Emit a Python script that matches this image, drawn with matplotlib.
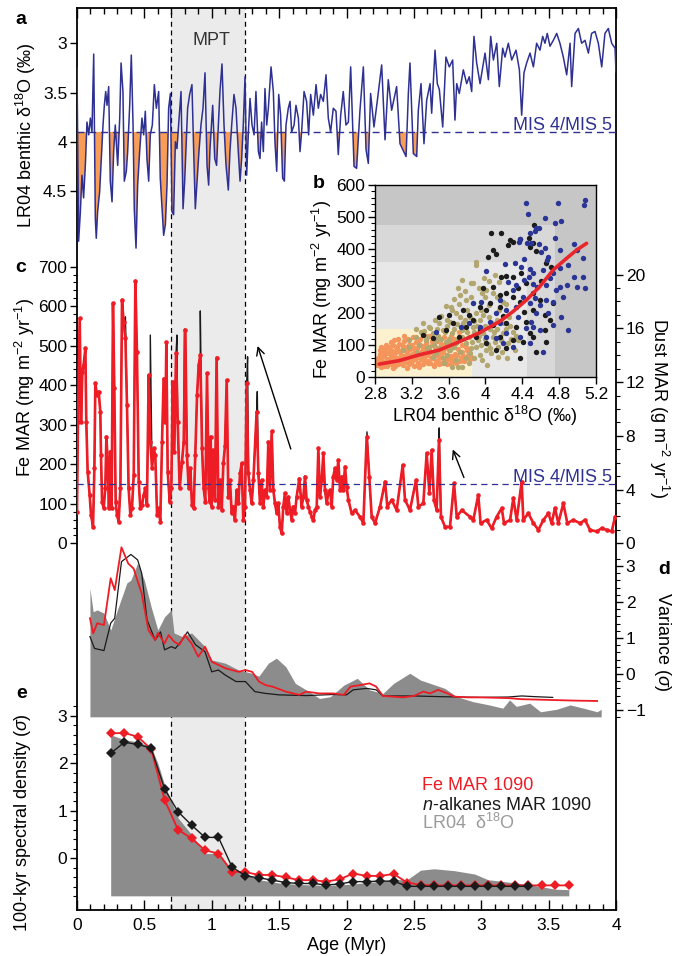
import numpy as np
import matplotlib.pyplot as plt
import matplotlib.ticker as ticker
from matplotlib.patches import Rectangle

plt.rcParams['font.family'] = ['Liberation Sans', 'DejaVu Sans']
plt.rcParams['mathtext.fontset'] = 'custom'
plt.rcParams['mathtext.rm'] = 'Liberation Sans'
plt.rcParams['mathtext.it'] = 'Liberation Sans:italic'
plt.rcParams['mathtext.bf'] = 'Liberation Sans:bold'
plt.rcParams['xtick.labelsize'] = 12.5
plt.rcParams['ytick.labelsize'] = 12.5

# ---- panel a: LR04 benthic d18O (turning points)
lr04_age = [0.000, 0.012, 0.025, 0.037, 0.049, 0.062, 0.074, 0.087, 0.099, 0.111, 0.124, 0.136,
            0.143, 0.153, 0.168, 0.178, 0.193, 0.203, 0.213, 0.223, 0.235, 0.247, 0.260, 0.272,
            0.284, 0.302, 0.317, 0.327, 0.341, 0.351, 0.366, 0.376, 0.391, 0.403, 0.416, 0.425,
            0.438, 0.450, 0.465, 0.482, 0.495, 0.507, 0.519, 0.532, 0.544, 0.559, 0.574, 0.589,
            0.606, 0.618, 0.631, 0.643, 0.656, 0.668, 0.680, 0.693, 0.705, 0.717, 0.730, 0.742,
            0.754, 0.772, 0.787, 0.799, 0.811, 0.821, 0.836, 0.853, 0.866, 0.878, 0.891, 0.905,
            0.920, 0.935, 0.950, 0.965, 0.977, 0.987, 1.007, 1.022, 1.036, 1.049, 1.061, 1.076,
            1.091, 1.106, 1.123, 1.135, 1.148, 1.165, 1.180, 1.197, 1.210, 1.222, 1.234, 1.247,
            1.259, 1.272, 1.284, 1.299, 1.314, 1.328, 1.346, 1.358, 1.370, 1.383, 1.395, 1.408,
            1.420, 1.440, 1.457, 1.469, 1.482, 1.497, 1.511, 1.526, 1.539, 1.551, 1.568, 1.581,
            1.593, 1.611, 1.625, 1.643, 1.655, 1.667, 1.685, 1.704, 1.719, 1.734, 1.754, 1.774,
            1.791, 1.808, 1.828, 1.848, 1.865, 1.882, 1.902, 1.922, 1.939, 1.957, 1.976, 1.996,
            2.014, 2.031, 2.056, 2.075, 2.100, 2.125, 2.145, 2.162, 2.179, 2.204, 2.229,
            2.261, 2.286, 2.310, 2.335, 2.372, 2.397, 2.442, 2.459, 2.471, 2.496, 2.521, 2.533,
            2.553, 2.575, 2.595, 2.620, 2.632, 2.657, 2.674, 2.689, 2.714, 2.738, 2.763, 2.788,
            2.805, 2.818, 2.837, 2.867, 2.892, 2.911, 2.929, 2.946, 2.966, 2.991, 3.028, 3.053,
            3.070, 3.090, 3.115, 3.134, 3.159, 3.176, 3.201, 3.226, 3.258, 3.283, 3.300, 3.317,
            3.337, 3.362, 3.387, 3.411, 3.436, 3.456, 3.473, 3.490, 3.510, 3.535, 3.560, 3.584,
            3.609, 3.634, 3.659, 3.671, 3.696, 3.721, 3.745, 3.770, 3.795, 3.819, 3.844, 3.869,
            3.894, 3.918, 3.943, 3.968, 3.993, 4.000]
lr04_d18o = [3.25, 5.01, 4.71, 4.34, 4.57, 4.24, 3.80, 3.93, 3.76, 3.90, 3.11, 4.78,
             4.98, 4.71, 4.51, 4.24, 3.83, 3.63, 3.49, 3.63, 3.44, 4.40, 4.61, 4.10,
             3.83, 4.24, 3.76, 3.20, 3.49, 4.40, 4.30, 4.10, 3.63, 3.12, 3.83, 4.68,
             5.08, 4.44, 4.10, 3.76, 3.93, 3.69, 4.17, 4.40, 3.93, 3.83, 3.42, 3.66,
             3.49, 4.37, 4.68, 4.95, 4.84, 4.44, 3.66, 3.51, 4.71, 4.74, 4.00, 4.07,
             3.83, 3.49, 4.68, 4.40, 4.00, 3.66, 3.52, 3.42, 4.10, 4.68, 4.40, 4.10,
             3.83, 3.66, 3.30, 4.24, 4.44, 4.07, 3.63, 4.17, 4.24, 3.83, 3.49, 3.21,
             3.83, 4.24, 4.49, 4.10, 3.83, 3.52, 3.66, 4.10, 4.40, 4.17, 3.83, 3.34,
             4.34, 3.90, 3.56, 3.83, 3.93, 3.49, 4.10, 4.17, 3.80, 4.10, 3.46, 3.83,
             3.66, 3.24, 3.49, 4.00, 4.30, 3.52, 3.73, 4.37, 4.40, 3.83, 3.66, 3.59,
             3.90, 3.83, 3.63, 3.76, 4.10, 3.90, 3.49, 3.59, 3.93, 3.52, 3.73, 3.42,
             3.66, 3.52, 3.59, 3.32, 3.76, 3.90, 3.66, 3.69, 4.13, 3.73, 3.49, 3.83,
             3.80, 3.24, 4.25, 4.27, 3.68, 3.24, 4.08, 4.22, 3.51, 3.85, 3.58,
             3.22, 3.98, 3.37, 3.68, 3.44, 4.02, 4.15, 3.51, 3.20, 4.12, 4.15, 3.68,
             3.41, 4.02, 3.58, 3.41, 3.71, 3.07, 3.41, 3.47, 3.85, 3.14, 3.24, 3.17,
             3.78, 3.41, 3.51, 3.27, 3.41, 3.34, 3.49, 2.93, 3.20, 3.41, 3.10, 3.37,
             2.93, 3.17, 3.00, 3.44, 3.05, 3.14, 3.00, 3.17, 3.07, 3.27, 3.73, 3.30,
             3.20, 3.10, 3.24, 3.00, 3.07, 2.93, 3.00, 2.90, 3.03, 2.97, 2.90, 3.00,
             3.14, 3.32, 3.00, 3.44, 2.90, 2.85, 3.00, 2.97, 3.10, 2.90, 2.88, 3.00,
             3.24, 2.90, 2.85, 3.00, 3.05, 3.29]
mis_d18o = 3.9

# ---- panel c: Fe MAR ODP 1090 (mg m-2 yr-1)
fe_age = [0.000, 0.007, 0.020, 0.030, 0.040, 0.049, 0.062, 0.069, 0.079, 0.094, 0.104, 0.119,
          0.129, 0.136, 0.148, 0.161, 0.173, 0.178, 0.186, 0.198, 0.210, 0.218, 0.228, 0.237,
          0.247, 0.257, 0.267, 0.277, 0.287, 0.297, 0.309, 0.322, 0.334, 0.346, 0.359, 0.371,
          0.383, 0.396, 0.408, 0.421, 0.433, 0.445, 0.458, 0.470, 0.482, 0.495, 0.507, 0.519,
          0.532, 0.544, 0.557, 0.569, 0.581, 0.594, 0.606, 0.618, 0.631, 0.643, 0.656, 0.663,
          0.673, 0.688, 0.700, 0.710, 0.722, 0.735, 0.747, 0.762, 0.779, 0.792, 0.804, 0.816,
          0.829, 0.841, 0.853, 0.866, 0.878, 0.891, 0.903, 0.915, 0.928, 0.940, 0.952, 0.965,
          0.977, 0.984, 0.992, 0.999, 1.012, 1.024, 1.036, 1.049, 1.061, 1.074, 1.086, 1.098,
          1.111, 1.123, 1.135, 1.148, 1.160, 1.172, 1.185, 1.197, 1.210, 1.222, 1.234, 1.247,
          1.259, 1.272, 1.284, 1.296, 1.309, 1.333, 1.346, 1.358, 1.370, 1.383, 1.395, 1.408,
          1.420, 1.432, 1.445, 1.457, 1.469, 1.482, 1.494, 1.506, 1.519, 1.531, 1.543, 1.556,
          1.568, 1.581, 1.593, 1.605, 1.618, 1.630, 1.650, 1.667, 1.680, 1.692, 1.704, 1.717,
          1.729, 1.742, 1.754, 1.766, 1.779, 1.791, 1.803, 1.816, 1.828, 1.840, 1.853, 1.865,
          1.878, 1.890, 1.902, 1.915, 1.927, 1.939, 1.952, 1.964, 1.976, 1.989, 2.001, 2.014,
          2.038, 2.063, 2.100, 2.125, 2.150, 2.169,
          2.187, 2.212, 2.249, 2.286, 2.303, 2.335, 2.372, 2.417, 2.434, 2.471, 2.516, 2.533,
          2.570, 2.595, 2.615, 2.632, 2.649, 2.669, 2.686, 2.701, 2.731, 2.768, 2.798, 2.818,
          2.855, 2.917, 2.941, 2.978, 2.995, 3.040, 3.077, 3.114, 3.152, 3.169, 3.214, 3.238,
          3.263, 3.300, 3.312, 3.349, 3.387, 3.424, 3.461, 3.498, 3.522, 3.547, 3.572, 3.609,
          3.639, 3.683, 3.733, 3.770, 3.807, 3.856, 3.893, 3.930, 3.968, 3.993]
fe_mar = [80, 308, 569, 308, 434, 451, 493, 308, 181, 122, 72, 42,
          190, 405, 375, 384, 333, 223, 105, 89, 139, 270, 207, 89,
          232, 89, 607, 392, 105, 72, 55, 139, 616, 561, 519, 350,
          139, 72, 89, 173, 664, 485, 156, 89, 97, 122, 139, 97,
          426, 257, 190, 240, 223, 72, 89, 55, 257, 417, 308, 509,
          181, 105, 139, 409, 232, 481, 308, 139, 207, 257, 540, 223,
          139, 190, 97, 89, 223, 375, 451, 477, 240, 139, 105, 430,
          139, 105, 270, 93, 236, 110, 470, 93, 160, 84, 202, 245,
          413, 118, 160, 76, 93, 59, 135, 101, 177, 202, 59, 93,
          405, 177, 135, 101, 160, 333, 177, 101, 160, 93, 135, 118,
          257, 135, 283, 135, 101, 76, 101, 42, 25, 93, 127, 76,
          118, 84, 59, 93, 76, 118, 164, 93, 118, 169, 110, 93,
          80, 67, 59, 84, 93, 240, 118, 160, 228, 135, 101, 127,
          135, 93, 169, 190, 160, 211, 135, 169, 135, 194, 143, 110,
          76, 84, 67, 51, 270, 169,
          67, 51, 93, 156, 93, 110, 84, 198, 110, 84, 160, 93,
          101, 228, 127, 236, 110, 84, 261, 67, 42, 42, 152, 67,
          84, 67, 59, 122, 51, 59, 38, 67, 89, 51, 59, 114,
          59, 156, 59, 76, 51, 34, 59, 76, 51, 89, 51, 101,
          51, 59, 51, 59, 34, 30, 38, 34, 30, 67]
# n-alkanes MAR: follows Fe MAR but with taller spikes at these ages
alk_spike_age = [0.359, 0.544, 0.742, 0.797, 0.915, 1.266, 1.338, 2.152, 2.688]
alk_spike_val = [573, 527, 527, 542, 588, 472, 384, 282, 292]
mis_fe = 150
dust_per_fe = 1 / 34.0

# ---- panel d: variance (sigma)
var_lr04_age = [0.096, 0.12, 0.15, 0.20, 0.25, 0.30, 0.37, 0.40, 0.45, 0.50, 0.55, 0.60, 0.65,
                0.70, 0.72, 0.78, 0.85, 0.95, 1.00, 1.10, 1.20, 1.30, 1.35, 1.42, 1.48, 1.55,
                1.62, 1.70, 1.80, 1.88, 1.98, 2.08, 2.17, 2.27, 2.35, 2.47, 2.55, 2.62, 2.73,
                2.82, 2.94, 3.06, 3.16, 3.21, 3.26, 3.36, 3.44, 3.56, 3.66, 3.76, 3.86, 3.89]
var_lr04 = [2.38, 1.73, 1.78, 1.69, 1.22, 1.78, 2.53, 2.61, 3.08, 2.60, 1.87, 1.22, 1.59,
            1.78, 1.14, 1.04, 1.14, 0.76, 0.39, 0.30, 0.11, 0.02, -0.06, 0.30, 0.44, 0.20,
            -0.26, -0.44, -0.68, -0.63, -0.31, -0.12, -0.44, -0.54, -0.26, 0.02, -0.17, -0.26, -0.40,
            -0.63, -0.77, -0.86, -0.95, -0.72, -0.90, -0.81, -1.05, -0.98, -0.86, -0.95, -1.05, -0.98]
var_base = -1.19
var_fe_age = [0.096, 0.12, 0.15, 0.20, 0.25, 0.28, 0.33, 0.38, 0.42, 0.48, 0.53, 0.58, 0.60,
              0.65, 0.68, 0.72, 0.76, 0.80, 0.85, 0.90, 0.95, 1.00, 1.05, 1.10, 1.20, 1.25,
              1.30, 1.35, 1.40, 1.45, 1.55, 1.65, 1.70, 1.80, 1.90, 1.98, 2.03, 2.10, 2.17,
              2.22, 2.27, 2.35, 2.42, 2.50, 2.57, 2.62, 2.68, 2.75, 2.80, 2.90, 3.00, 3.20,
              3.30, 3.50, 3.70, 3.86]
var_fe = [1.55, 1.13, 1.41, 1.36, 2.66, 2.33, 3.52, 3.07, 2.93, 2.24, 1.22, 0.94, 1.14,
          0.85, 1.08, 0.90, 0.81, 1.08, 0.85, 0.48, 0.76, 0.34, 0.25, 0.16, 0.06, 0.11,
          0.06, -0.21, -0.31, -0.35, -0.49, -0.58, -0.49, -0.54, -0.54, -0.58, -0.35, -0.31, -0.26,
          -0.35, -0.61, -0.63, -0.65, -0.61, -0.49, -0.54, -0.44, -0.54, -0.63, -0.65, -0.65, -0.67,
          -0.70, -0.72, -0.74, -0.75]
var_alk_age = [0.096, 0.13, 0.20, 0.25, 0.28, 0.33, 0.40, 0.45, 0.48, 0.52, 0.58, 0.62, 0.65,
               0.70, 0.73, 0.78, 0.82, 0.88, 0.95, 1.00, 1.05, 1.10, 1.18, 1.25, 1.32, 1.40,
               1.50, 1.70, 1.90, 2.00, 2.05, 2.15, 2.22, 2.27, 2.50, 2.70, 3.00, 3.20, 3.30,
               3.40, 3.53]
var_alk = [1.04, 0.71, 0.65, 1.41, 1.55, 3.12, 3.32, 3.17, 2.80, 1.50, 0.94, 1.17, 0.67,
           0.76, 0.71, 0.94, 1.17, 0.81, 0.62, 0.06, 0.11, -0.03, -0.21, -0.21, -0.49, -0.54,
           -0.58, -0.60, -0.57, -0.58, -0.44, -0.40, -0.44, -0.61, -0.61, -0.63, -0.65, -0.64, -0.61,
           -0.63, -0.65]

# ---- panel e: 100-kyr spectral density (sigma)
spec_lr04_age = [0.25, 0.35, 0.45, 0.55, 0.60, 0.65, 0.70, 0.75, 0.85, 0.95, 1.05, 1.15, 1.25,
                 1.35, 1.50, 1.65, 1.85, 2.00, 2.20, 2.35, 2.45, 2.55, 2.65, 2.80, 2.95, 3.05,
                 3.20, 3.35, 3.45, 3.55, 3.65]
spec_lr04 = [2.60, 2.50, 2.45, 2.35, 2.00, 1.55, 1.20, 0.85, 0.50, 0.10, 0.10, -0.25, -0.30,
             -0.45, -0.52, -0.55, -0.57, -0.55, -0.50, -0.45, -0.45, -0.25, -0.22, -0.26, -0.33, -0.45,
             -0.50, -0.55, -0.60, -0.65, -0.66]
spec_base = -0.79
spec_fe_age = [0.25, 0.35, 0.45, 0.55, 0.65, 0.75, 0.85, 0.95, 1.05, 1.15, 1.25, 1.35, 1.45,
               1.55, 1.65, 1.75, 1.85, 1.95, 2.05, 2.15, 2.25, 2.35, 2.45, 2.55, 2.65, 2.75,
               2.85, 2.95, 3.05, 3.15, 3.25, 3.35, 3.45, 3.55, 3.65]
spec_fe = [2.63, 2.64, 2.56, 2.30, 1.23, 0.60, 0.42, 0.17, 0.10, -0.28, -0.29, -0.35, -0.35,
           -0.40, -0.46, -0.46, -0.49, -0.44, -0.32, -0.37, -0.37, -0.33, -0.51, -0.56, -0.57, -0.57,
           -0.57, -0.57, -0.57, -0.57, -0.57, -0.57, -0.57, -0.57, -0.57]
spec_alk_age = [0.25, 0.35, 0.45, 0.55, 0.65, 0.75, 0.85, 0.95, 1.05, 1.15, 1.25, 1.35, 1.45,
                1.55, 1.65, 1.75, 1.85, 1.95, 2.05, 2.15, 2.25, 2.35, 2.45, 2.55, 2.65, 2.75,
                2.85, 2.95, 3.05, 3.15, 3.25, 3.35]
spec_alk = [2.21, 2.44, 2.40, 2.32, 1.46, 0.98, 0.70, 0.44, 0.44, -0.18, -0.37, -0.41, -0.46,
            -0.51, -0.53, -0.53, -0.56, -0.54, -0.49, -0.49, -0.48, -0.48, -0.59, -0.59, -0.59, -0.59,
            -0.59, -0.59, -0.59, -0.59, -0.59, -0.59]

# ---- panel b: Fe MAR vs d18O scatter
orange_pts = [(2.82, 38), (2.83, 60), (2.84, 45), (2.85, 72), (2.86, 32), (2.87, 55), (2.88, 80),
              (2.89, 42), (2.90, 65), (2.91, 88), (2.92, 50), (2.93, 35), (2.94, 75), (2.95, 95),
              (2.96, 58), (2.97, 40), (2.98, 82), (2.99, 68), (3.00, 100), (3.01, 48), (3.02, 34),
              (3.03, 78), (3.04, 90), (3.05, 60), (3.06, 105), (3.07, 44), (3.08, 70), (3.09, 86),
              (3.10, 38), (3.11, 112), (3.12, 62), (3.13, 96), (3.14, 50), (3.15, 76), (3.16, 118),
              (3.17, 40), (3.18, 88), (3.19, 66), (3.20, 102), (3.21, 54), (3.22, 36), (3.23, 82),
              (3.24, 110), (3.25, 60), (3.26, 92), (3.27, 46), (3.28, 74), (3.29, 120), (3.30, 56),
              (3.31, 98), (3.32, 40), (3.33, 84), (3.34, 66), (3.35, 108), (3.36, 50), (3.37, 90),
              (3.38, 72), (3.39, 128), (3.40, 44), (3.41, 80), (3.42, 100), (3.43, 60), (3.44, 38),
              (3.45, 94), (3.46, 70), (3.47, 114), (3.48, 52), (3.49, 86), (3.50, 64), (3.52, 104),
              (3.53, 46), (3.54, 78), (3.56, 92), (3.57, 58), (3.58, 40), (3.60, 84), (3.61, 110),
              (3.62, 66), (3.64, 50), (3.65, 96), (3.67, 74), (3.68, 44), (3.70, 88), (3.71, 140),
              (3.73, 60), (3.75, 80), (3.77, 52), (3.79, 96), (3.81, 70), (3.83, 58), (2.86, 95),
              (2.97, 110), (3.05, 120), (3.12, 130), (3.00, 30), (3.15, 30), (3.28, 32), (3.44, 34),
              (3.55, 125), (3.66, 120), (2.83, 50), (2.85, 85), (2.87, 65), (2.88, 48), (2.90, 36),
              (2.91, 72), (2.93, 58), (2.94, 44), (2.96, 88), (2.97, 66), (2.99, 52), (3.00, 78),
              (3.02, 62), (3.03, 96), (3.05, 40), (3.06, 82), (3.08, 54), (3.09, 100), (3.11, 68),
              (3.12, 44), (3.14, 84), (3.16, 58), (3.17, 102), (3.19, 48), (3.20, 72), (3.22, 92),
              (3.23, 56), (3.25, 80), (3.26, 38), (3.28, 104), (3.30, 66), (3.31, 82), (3.33, 52),
              (3.34, 96), (3.36, 70), (3.38, 46), (3.39, 86), (3.41, 60), (3.42, 112), (3.44, 74),
              (3.46, 52), (3.47, 90), (3.49, 40), (3.51, 78), (3.53, 62), (3.55, 100), (3.56, 48),
              (3.58, 70), (3.60, 56), (3.62, 90), (3.63, 40), (3.66, 62), (3.69, 70), (3.72, 50),
              (3.74, 100), (3.76, 66), (3.80, 84), (3.84, 64), (2.92, 100), (3.01, 115), (3.21, 125),
              (3.35, 130), (3.50, 120), (3.63, 130)]
tan_pts = [(3.90, 361), (3.90, 350), (3.84, 293), (3.96, 262), (3.57, 223), (3.63, 220), (3.72, 257),
           (3.79, 241), (3.86, 231), (3.95, 210), (4.04, 226), (4.15, 210), (4.26, 189), (4.04, 189),
           (3.94, 179), (3.83, 189), (3.72, 189), (3.61, 174), (3.50, 168), (3.39, 158), (3.32, 168),
           (3.43, 137), (3.54, 148), (3.64, 137), (3.75, 148), (3.86, 158), (3.97, 137), (4.08, 127),
           (4.19, 137), (4.30, 142), (4.35, 116), (4.24, 106), (4.14, 96), (4.01, 85), (3.90, 96),
           (3.79, 106), (3.68, 106), (3.57, 111), (3.46, 116), (3.35, 116), (3.24, 127), (3.17, 116),
           (3.28, 101), (3.39, 96), (3.50, 90), (3.61, 85), (3.72, 80), (3.83, 75), (3.94, 70),
           (4.02, 38), (3.70, 33), (3.75, 33), (3.64, 33), (3.26, 80), (3.17, 96), (3.10, 85),
           (3.43, 64), (3.54, 59), (3.79, 59), (4.14, 64), (4.32, 85), (4.23, 59), (3.86, 293),
           (4.08, 262), (4.19, 236), (3.64, 210), (4.15, 298), (4.01, 272), (3.75, 303), (3.30, 140),
           (3.36, 125), (3.48, 130), (3.58, 160), (3.66, 150), (3.70, 120), (3.82, 125), (3.88, 140),
           (3.92, 115), (3.99, 160), (4.05, 150), (4.10, 110), (4.20, 170), (4.28, 120), (3.52, 190),
           (3.68, 200), (3.80, 210), (3.90, 200), (4.00, 250), (4.12, 180), (3.46, 75), (3.58, 70),
           (3.66, 95), (3.85, 110), (3.95, 100), (4.05, 90), (3.36, 90), (3.76, 170), (3.60, 120),
           (3.45, 180), (4.10, 320), (3.98, 310), (3.70, 280), (3.25, 150), (3.33, 145), (3.40, 155),
           (3.44, 100), (3.52, 120), (3.56, 140), (3.62, 105), (3.69, 165), (3.74, 125), (3.78, 180),
           (3.80, 140), (3.84, 90), (3.87, 175), (3.91, 160), (3.93, 130), (3.97, 195), (4.00, 120),
           (4.03, 105), (4.07, 170), (4.09, 140), (4.13, 150), (4.17, 115), (4.22, 150), (4.27, 160),
           (4.33, 130), (3.55, 45), (3.68, 55), (3.82, 45), (3.88, 60), (3.96, 55), (4.06, 75),
           (4.18, 80), (3.47, 150), (3.58, 180), (3.71, 230), (3.84, 250), (3.93, 280), (4.04, 300),
           (4.12, 250), (4.22, 230), (3.78, 270), (3.66, 245)]
black_pts = [(4.055, 451), (4.164, 451), (4.084, 397), (4.109, 385), (4.025, 374), (4.24, 413),
             (4.269, 428), (4.298, 423), (4.371, 430), (4.48, 408), (4.524, 475), (4.473, 434),
             (4.516, 418), (4.553, 395), (4.662, 356), (4.716, 345), (3.971, 278), (4.080, 283),
             (4.171, 314), (4.225, 316), (4.298, 314), (4.389, 324), (4.444, 293), (4.516, 262),
             (4.589, 241), (4.298, 252), (4.225, 262), (4.153, 257), (4.044, 231), (3.935, 220),
             (3.825, 194), (3.753, 210), (3.607, 194), (3.498, 189), (3.644, 168), (3.789, 158),
             (3.935, 148), (4.080, 163), (4.225, 168), (4.335, 158), (4.444, 174), (4.516, 127),
             (4.407, 111), (4.298, 116), (4.153, 127), (4.007, 106), (3.898, 127), (3.716, 127),
             (3.571, 148), (3.425, 122), (3.324, 132), (4.371, 59), (4.225, 90), (4.116, 85),
             (4.516, 210), (4.644, 194), (4.735, 231), (4.644, 148), (4.48, 137), (4.007, 210),
             (4.153, 220), (4.371, 236), (4.662, 111), (4.553, 80), (3.86, 178), (4.19, 190),
             (4.42, 205), (4.60, 300), (4.35, 280), (4.70, 180)]
blue_pts = [(4.436, 545), (4.458, 509), (4.789, 545), (5.08, 553), (5.073, 538), (4.651, 496),
            (4.825, 489), (4.756, 480), (4.545, 467), (4.58, 467), (4.487, 449), (4.538, 457),
            (4.76, 434), (4.964, 416), (4.371, 432), (4.364, 423), (4.451, 420), (4.495, 420),
            (4.582, 416), (4.644, 402), (4.807, 397), (4.996, 397), (5.058, 372), (4.665, 366),
            (4.68, 374), (4.207, 354), (4.316, 356), (4.389, 345), (4.48, 338), (4.516, 325),
            (4.625, 335), (4.735, 325), (4.807, 340), (4.898, 350), (4.964, 314), (5.062, 312),
            (5.08, 278), (4.989, 283), (4.88, 288), (4.771, 272), (4.662, 288), (4.56, 283),
            (4.473, 314), (4.415, 304), (4.335, 288), (4.244, 298), (4.007, 332), (3.953, 236),
            (4.153, 241), (4.298, 272), (4.48, 231), (4.589, 226), (4.735, 236), (4.825, 189),
            (4.68, 200), (4.553, 200), (4.516, 158), (4.444, 153), (4.371, 127), (4.48, 106),
            (4.625, 80), (4.589, 148), (4.898, 148), (4.335, 220), (4.225, 210), (4.116, 200),
            (4.044, 174), (3.935, 158), (3.825, 168), (4.153, 168), (4.007, 127), (4.225, 137),
            (4.298, 96), (4.189, 106), (4.116, 122), (4.807, 283), (4.844, 252), (4.662, 241),
            (4.535, 246), (4.407, 252), (4.353, 189), (4.498, 174), (4.735, 163), (3.862, 231),
            (3.735, 158), (3.462, 142), (4.60, 390), (4.70, 310), (4.52, 290), (4.42, 370)]
fit_x = [2.844, 3.062, 3.28, 3.498, 3.716, 3.935, 4.153, 4.298, 4.444, 4.589, 4.735, 4.88, 4.989, 5.098]
fit_y = [41, 52, 70, 85, 111, 139, 174, 205, 241, 283, 335, 371, 397, 418]

W, H = 681, 956
FRAME = [77 / W, 1 - 910 / H, (616 - 77) / W, (910 - 8) / H]
BLUE = '#2e3192'
RED = '#ee1c25'
GRAY = '#8c8c8c'


def fxy(x, y):
    return x / W, 1 - y / H


fig = plt.figure(figsize=(W / 100, H / 100), dpi=100)

# shared frame with the age axis
frame = fig.add_axes(FRAME, label='frame')
frame.set_xlim(0, 4)
frame.set_ylim(0, 1)
frame.set_yticks([])
frame.xaxis.set_major_locator(ticker.MultipleLocator(0.5))
frame.xaxis.set_minor_locator(ticker.MultipleLocator(0.1))
frame.xaxis.set_major_formatter(ticker.FuncFormatter(lambda v, p: f'{v:g}'))
frame.tick_params(axis='x', which='both', direction='in', top=True, bottom=True, width=1)
frame.tick_params(axis='x', which='major', length=7, pad=6)
frame.tick_params(axis='x', which='minor', length=4)
for s in frame.spines.values():
    s.set_linewidth(1.3)
frame.axvspan(0.7, 1.25, color='#ebebeb', lw=0, zorder=0)
for xv in (0.7, 1.25):
    frame.axvline(xv, color='k', lw=0.9, ls=(0, (4, 3)), zorder=1)


def overlay(name, ylim):
    ax = fig.add_axes(FRAME, label=name)
    ax.patch.set_visible(False)
    for s in ax.spines.values():
        s.set_visible(False)
    ax.set_xlim(0, 4)
    ax.set_ylim(*ylim)
    ax.set_xticks([])
    return ax


def yticks(ax, major, minor=None, side='left'):
    ax.yaxis.set_major_locator(ticker.FixedLocator(major))
    ax.yaxis.set_major_formatter(ticker.FuncFormatter(lambda v, p: f'{v:g}'.replace('-', '\u2212')))
    if minor is not None:
        ax.yaxis.set_minor_locator(ticker.FixedLocator(minor))
    if side == 'right':
        ax.yaxis.tick_right()
    ax.tick_params(axis='y', which='major', direction='out', length=5, width=1, pad=2)
    ax.tick_params(axis='y', which='minor', direction='out', length=3, width=0.8)


# panel a
ax_a = overlay('a', (11.80, 2.642))
a_age = np.array(lr04_age)
a_val = np.array(lr04_d18o)
ax_a.fill_between(a_age, mis_d18o, a_val, where=a_val > mis_d18o, interpolate=True,
                  color='#f79d55', lw=0)
ax_a.plot(a_age, a_val, color=BLUE, lw=1.1)
ax_a.axhline(mis_d18o, color=BLUE, lw=1.0, ls=(0, (5, 3.5)))
yticks(ax_a, [3, 3.5, 4, 4.5])
ax_a.text(3.97, 3.88, 'MIS 4/MIS 5', color=BLUE, fontsize=13, ha='right', va='baseline')
ax_a.text(1.0, 2.97, 'MPT', color='#333333', fontsize=13, ha='center', va='center')

# panel c
ax_c = overlay('c', (-927.8, 1354.5))
fe_a = np.array(fe_age)
fe_v = np.array(fe_mar)
alk_a = np.concatenate([fe_a, alk_spike_age])
alk_v = np.concatenate([fe_v, alk_spike_val])
order = np.argsort(alk_a, kind='stable')
ax_c.plot(alk_a[order], alk_v[order], color='#1a1a1a', lw=1.0)
ax_c.plot(fe_a, fe_v, color=RED, lw=1.9, marker='o', ms=3.3, mew=0)
ax_c.axhline(mis_fe, color=BLUE, lw=0.9, ls=(0, (5, 3.5)))
yticks(ax_c, list(range(0, 701, 100)), list(range(0, 701, 20)))
ax_c.text(3.97, 156, 'MIS 4/MIS 5', color=BLUE, fontsize=13, ha='right', va='baseline')
arrow = dict(arrowstyle='->', lw=1.0, color='k', mutation_scale=14)
ax_c.annotate('', xy=(1.334, 506), xytext=(1.593, 232), arrowprops=arrow)
ax_c.annotate('', xy=(2.781, 244), xytext=(2.879, 160), arrowprops=arrow)

ax_dust = overlay('dust', (-927.8 * dust_per_fe, 1354.5 * dust_per_fe))
yticks(ax_dust, [0, 4, 8, 12, 16, 20], list(range(0, 21)), side='right')

# panel d
ax_d = overlay('d', (-6.556, 18.5))
ax_d.fill_between(var_lr04_age, var_base, var_lr04, color=GRAY, lw=0)
ax_d.plot(var_alk_age, var_alk, color='#1a1a1a', lw=0.9)
ax_d.plot(var_fe_age, var_fe, color=RED, lw=1.3)
yticks(ax_d, [-1, 0, 1, 2, 3], [round(-1.2 + 0.2 * i, 1) for i in range(23)], side='right')

# panel e
ax_e = overlay('e', (-1.088, 17.90))
ax_e.fill_between(spec_lr04_age, spec_base, spec_lr04, color=GRAY, lw=0)
ax_e.plot(spec_fe_age, spec_fe, color=RED, lw=1.3, marker='D', ms=5, mew=0)
ax_e.plot(spec_alk_age, spec_alk, color='#1a1a1a', lw=1.0, marker='D', ms=5, mew=0)
yticks(ax_e, [0, 1, 2, 3], [round(-0.8 + 0.2 * i, 1) for i in range(21)])

# panel b inset
ax_b = fig.add_axes([375 / W, 1 - 377.3 / H, 221 / W, 192.3 / H], label='b')
ax_b.set_xlim(2.8, 5.2)
ax_b.set_ylim(0, 600)
ax_b.set_facecolor('#c6c6c6')
ax_b.add_patch(Rectangle((2.8, 0), 1.95, 475, color='#d8d8d8', lw=0, zorder=0))
ax_b.add_patch(Rectangle((2.8, 0), 1.65, 360, color='#e8e8e8', lw=0, zorder=0))
ax_b.add_patch(Rectangle((2.8, 0), 1.05, 150, color='#fbf1cf', lw=0, zorder=0))
for pts, col in ((orange_pts, '#f4955c'), (tan_pts, '#b3a770'),
                 (black_pts, '#1c1c1c'), (blue_pts, '#2b3595')):
    px, py = np.array(pts).T
    ax_b.scatter(px, py, s=15, color=col, lw=0, zorder=2, clip_on=False)
ax_b.plot(fit_x, fit_y, color='#e8262b', lw=2.6, zorder=3, solid_capstyle='round')
ax_b.set_xticks([2.8, 3.2, 3.6, 4.0, 4.4, 4.8, 5.2])
ax_b.set_xticklabels(['2.8', '3.2', '3.6', '4', '4.4', '4.8', '5.2'])
ax_b.yaxis.set_major_locator(ticker.MultipleLocator(100))
ax_b.yaxis.set_minor_locator(ticker.MultipleLocator(20))
ax_b.tick_params(which='major', direction='out', length=5, width=1, pad=2)
ax_b.tick_params(which='minor', direction='out', length=3, width=0.8)
for s in ax_b.spines.values():
    s.set_linewidth(1.0)

# labels
lab = dict(fontsize=13, ha='center', va='center')
fig.text(*fxy(26, 135), 'LR04 benthic δ$^{18}$O (‰)', rotation=90, **lab)
fig.text(*fxy(25, 388), 'Fe MAR (mg m$^{-2}$ yr$^{-1}$)', rotation=90, **lab)
fig.text(*fxy(23, 823), '100-kyr spectral density ($\\sigma$)', rotation=90, **lab)
fig.text(*fxy(659, 408), 'Dust MAR (g m$^{-2}$ yr$^{-1}$)', rotation=270, **lab)
fig.text(*fxy(663, 642), 'Variance ($\\sigma$)', rotation=270, **lab)
fig.text(*fxy(322, 290), 'Fe MAR (mg m$^{-2}$ yr$^{-1}$)', rotation=90, **lab)
fig.text(*fxy(485, 416), 'LR04 benthic δ$^{18}$O (‰)', **lab)
fig.text(*fxy(347, 946), 'Age (Myr)', **lab)

letter = dict(fontsize=14, fontweight='bold', ha='center', va='center')
fig.text(*fxy(21, 19), 'a', **letter)
fig.text(*fxy(319, 183), 'b', **letter)
fig.text(*fxy(21, 267), 'c', **letter)
fig.text(*fxy(664, 570), 'd', **letter)
fig.text(*fxy(22, 694), 'e', **letter)

leg = dict(fontsize=13, ha='left', va='baseline')
fig.text(*fxy(422, 790), 'Fe MAR 1090', color=RED, **leg)
fig.text(*fxy(422, 810), '$n$-alkanes MAR 1090', color='#1a1a1a', **leg)
fig.text(*fxy(422, 829), 'LR04  δ$^{18}$O', color='#9a9a9a', **leg)

fig.savefig('out.png', dpi=100)
